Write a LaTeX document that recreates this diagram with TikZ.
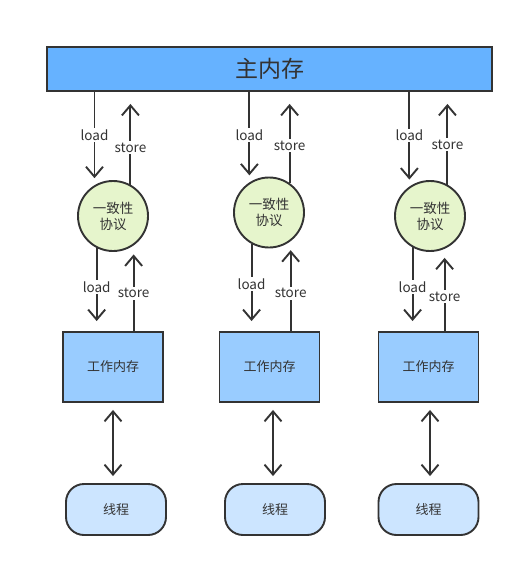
\documentclass[tikz,border=0pt]{standalone}
\usepackage{fontspec}
\setmainfont{Noto Sans CJK SC}
\usetikzlibrary{arrows.meta}
\definecolor{ink}{HTML}{333333}
\definecolor{mainblue}{HTML}{66B2FF}
\definecolor{boxblue}{HTML}{99CCFF}
\definecolor{threadblue}{HTML}{CCE5FF}
\definecolor{protgreen}{HTML}{E6F5CC}
\tikzset{
  base/.style={draw=ink, line width=1.9pt, text=ink},
  mainbox/.style={base, fill=mainblue, minimum width=445pt, minimum height=44pt, font=\fontsize{23}{26}\selectfont},
  workbox/.style={base, fill=boxblue, minimum width=100pt, minimum height=70pt, font=\fontsize{13}{15}\selectfont},
  threadbox/.style={base, fill=threadblue, rounded corners=18pt, minimum width=100pt, minimum height=51pt, font=\fontsize{13}{15}\selectfont},
  protocol/.style={base, circle, fill=protgreen, minimum size=70pt, inner sep=0pt, align=center, font=\fontsize{13.5}{16}\selectfont},
  arr/.style={draw=ink, line width=1.9pt, -{Straight Barb[length=10pt,width=17pt]}},
  darr/.style={draw=ink, line width=1.9pt, {Straight Barb[length=10pt,width=17pt]}-{Straight Barb[length=10pt,width=17pt]}, shorten <=7pt, shorten >=7pt},
  lbl/.style={fill=white, text=ink, inner sep=1.5pt, font=\fontsize{13.5}{15}\selectfont}
}
\begin{document}
\begin{tikzpicture}[x=1pt, y=-1pt]
\useasboundingbox[fill=white] (0,0) rectangle (524,567);
\node[mainbox] (mm) at (269.5,69) {主内存};

\node[protocol] (c1) at (113,216) {一致性\\协议};
\node[protocol] (c2) at (269,212.5) {一致性\\协议};
\node[protocol] (c3) at (430,216) {一致性\\协议};

\node[workbox] (b1) at (113,367) {工作内存};
\node[workbox] (b2) at (269.5,367) {工作内存};
\node[workbox] (b3) at (428.5,367) {工作内存};

\node[threadbox] (t1) at (116,509.5) {线程};
\node[threadbox] (t2) at (275,509.5) {线程};
\node[threadbox] (t3) at (428.5,509.5) {线程};

\coordinate (d1) at (113,0);
\coordinate (d2) at (273,0);
\coordinate (d3) at (430,0);

% column 1
\draw[arr, shorten >=7pt] (mm.south -| c1.121) -- node[lbl, pos=0.46] {load} (c1.121);
\draw[arr, shorten >=12pt] (c1.61) -- node[lbl, pos=0.40] {store} (c1.61 |- mm.south);
\draw[arr, shorten >=10pt] (c1.-117) -- node[lbl, pos=0.47] {load} (c1.-117 |- b1.north);
\draw[arr, shorten >=9pt] (b1.north -| c1.-55) -- node[lbl, pos=0.44] {store} (c1.-55);
\draw[darr] (b1.south -| d1) -- (t1.north -| d1);

% column 2
\draw[arr, shorten >=7pt] (mm.south -| c2.123) -- node[lbl, pos=0.48] {load} (c2.123);
\draw[arr, shorten >=12pt] (c2.55) -- node[lbl, pos=0.41] {store} (c2.55 |- mm.south);
\draw[arr, shorten >=10pt] (c2.-119) -- node[lbl, pos=0.46] {load} (c2.-119 |- b2.north);
\draw[arr, shorten >=9pt] (b2.north -| c2.-53) -- node[lbl, pos=0.42] {store} (c2.-53);
\draw[darr] (b2.south -| d2) -- (t2.north -| d2);

% column 3
\draw[arr, shorten >=7pt] (mm.south -| c3.125) -- node[lbl, pos=0.46] {load} (c3.125);
\draw[arr, shorten >=12pt] (c3.61) -- node[lbl, pos=0.43] {store} (c3.61 |- mm.south);
\draw[arr, shorten >=10pt] (c3.-119) -- node[lbl, pos=0.47] {load} (c3.-119 |- b3.north);
\draw[arr, shorten >=9pt] (b3.north -| c3.-66) -- node[lbl, pos=0.42] {store} (c3.-66);
\draw[darr] (b3.south -| d3) -- (t3.north -| d3);
\end{tikzpicture}
\end{document}
